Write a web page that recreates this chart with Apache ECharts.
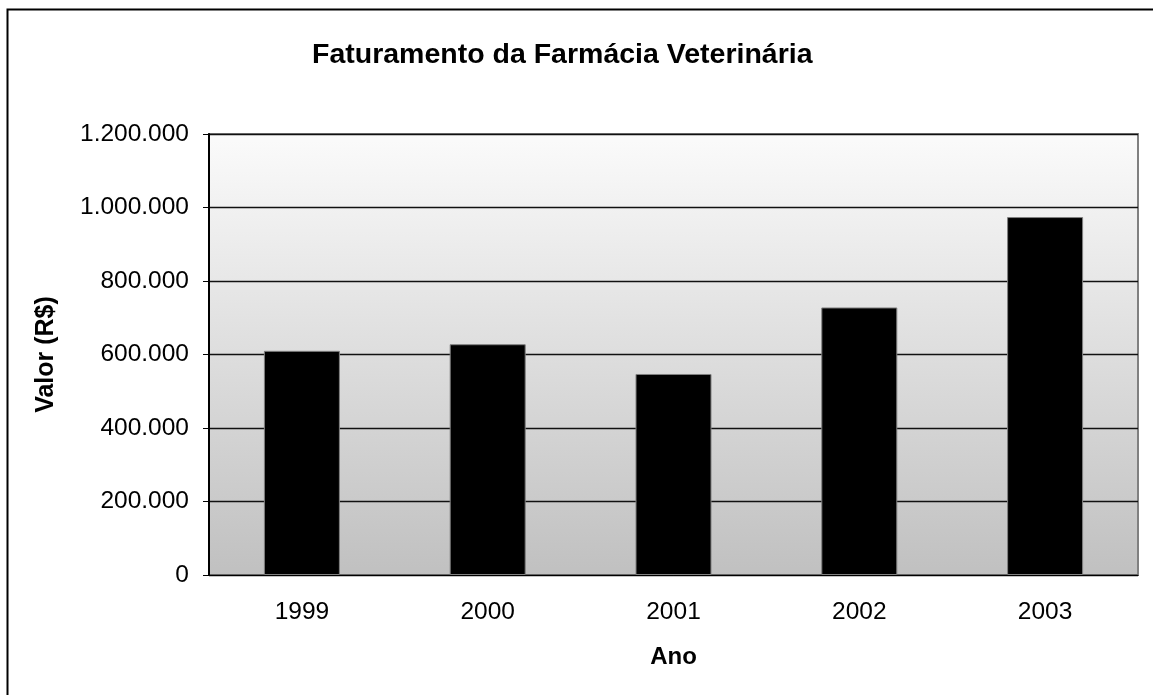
<!DOCTYPE html>
<html>
<head>
<meta charset="utf-8">
<script src="https://cdn.jsdelivr.net/npm/echarts@6/dist/echarts.min.js"></script>
<style>
  html, body { margin: 0; padding: 0; background: #fff; }
  #chart { width: 1153px; height: 695px; }
</style>
</head>
<body>
<div id="chart"></div>
<script>
// dados do gráfico
var anos = ['1999', '2000', '2001', '2002', '2003']
var faturamento = [610000, 628000, 547000, 728000, 974000]
var yMin = 0
var yMax = 1200000
var yStep = 200000

// 1200000 -> '1.200.000'
function formatoBR (v) {
  return String(v).replace(/\B(?=(\d{3})+(?!\d))/g, '.')
}

var fonte = 'Liberation Sans, Arial, sans-serif'
var myChart = echarts.init(document.getElementById('chart'))

myChart.setOption({
  animation: false,
  title: {
    text: 'Faturamento da Farmácia Veterinária',
    left: 312,
    top: 41,
    padding: 0,
    textStyle: { fontFamily: fonte, fontSize: 28.5, fontWeight: 'bold', color: '#000' }
  },
  graphic: [
    {
      // moldura externa (só aparecem topo e esquerda)
      type: 'rect',
      shape: { x: 7.5, y: 9.5, width: 1300, height: 900 },
      style: { fill: 'none', stroke: '#000', lineWidth: 2 },
      silent: true
    }
  ],
  grid: {
    left: 209,
    right: 15,
    top: 134,
    bottom: 120,
    show: true,
    borderColor: '#808080',
    borderWidth: 2,
    backgroundColor: new echarts.graphic.LinearGradient(0, 0, 0, 1, [
      { offset: 0, color: '#fbfbfb' },
      { offset: 1, color: '#c0c0c0' }
    ])
  },
  xAxis: {
    type: 'category',
    data: anos,
    name: 'Ano',
    nameLocation: 'middle',
    nameGap: 70,
    nameTextStyle: { fontFamily: fonte, fontSize: 24, fontWeight: 'bold', color: '#000' },
    axisLine: { lineStyle: { color: '#000', width: 1 } },
    axisTick: { length: 7, lineStyle: { color: '#000' } },
    axisLabel: { margin: 25, fontFamily: fonte, fontSize: 24.5, color: '#000' }
  },
  yAxis: {
    type: 'value',
    min: yMin,
    max: yMax,
    interval: yStep,
    name: 'Valor (R$)',
    nameLocation: 'middle',
    nameGap: 150,
    nameTextStyle: { fontFamily: fonte, fontSize: 25, fontWeight: 'bold', color: '#000' },
    axisLine: { show: true, lineStyle: { color: '#000', width: 2 } },
    axisTick: { show: true, length: 6, lineStyle: { color: '#000' } },
    axisLabel: {
      margin: 20,
      fontFamily: fonte,
      fontSize: 24.5,
      color: '#000',
      formatter: formatoBR
    },
    splitLine: { lineStyle: { color: '#111', width: 1.3 } }
  },
  series: [
    {
      type: 'bar',
      data: faturamento,
      barWidth: 76,
      itemStyle: { color: '#000', borderColor: '#808080', borderWidth: 1 }
    }
  ]
})
</script>
</body>
</html>
